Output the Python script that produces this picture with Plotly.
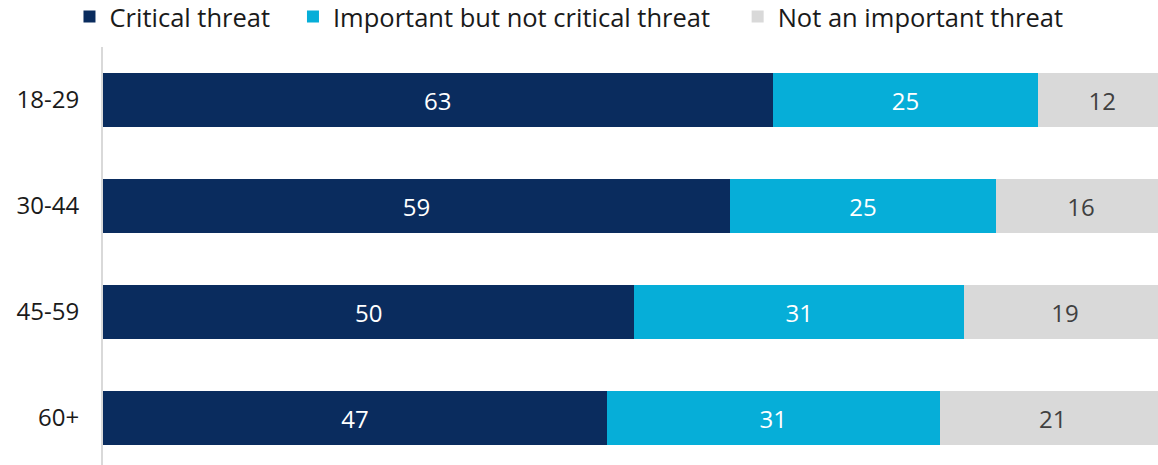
import plotly.graph_objects as go

categories = ["18-29", "30-44", "45-59", "60+"]
critical = [63, 59, 50, 47.4]
important = [25, 25, 31, 31.3]
not_important = [12, 16, 19, 21.3]

series_names = ["Critical threat", "Important but not critical threat", "Not an important threat"]
colors = ["#0a2c5e", "#06aed8", "#d9d9d9"]
text_colors = ["#ffffff", "#ffffff", "#404040"]
legend_ids = ["legend", "legend2", "legend3"]
legend_x = [0.060, 0.253, 0.637]

FONT = "Open Sans"

fig = go.Figure()
for name, vals, col, tcol, lid in zip(series_names, [critical, important, not_important], colors, text_colors, legend_ids):
    fig.add_trace(go.Bar(
        y=categories, x=vals, orientation="h", name=name,
        marker=dict(color=col, line=dict(width=0)),
        width=0.51, legend=lid,
        texttemplate="%{x:.0f}", textposition="inside", insidetextanchor="middle",
        textfont=dict(family=FONT, size=24, color=tcol),
        cliponaxis=True, hoverinfo="skip",
    ))

legend_common = dict(orientation="h", xanchor="left", yref="container", xref="container",
                     y=0.9634, yanchor="middle",
                     font=dict(family=FONT, size=25.5, color="#1a1a1a"),
                     itemwidth=30, bgcolor="rgba(0,0,0,0)")

layout_legends = {}
for lid, lx in zip(legend_ids, legend_x):
    layout_legends[lid] = dict(legend_common, x=lx)

fig.update_layout(
    barmode="stack",
    width=1158, height=465,
    margin=dict(l=103, r=0, t=47, b=0, autoexpand=False),
    paper_bgcolor="white", plot_bgcolor="white",
    font=dict(family=FONT, size=24, color="#1a1a1a"),
    uniformtext=dict(minsize=24, mode="show"),
    xaxis=dict(range=[0, 99.25], showgrid=False, zeroline=False, showticklabels=False,
               showline=False, fixedrange=True, automargin=False),
    yaxis=dict(type="category", range=[3.443, -0.5], showgrid=False, zeroline=False,
               showline=True, linecolor="#d9d9d9", linewidth=2, ticks="", automargin=False,
               ticklabelstandoff=17, tickfont=dict(family=FONT, size=24, color="#1a1a1a")),
    showlegend=True,
    **layout_legends,
)

fig.write_html("out.html", config={"displayModeBar": False},
               post_script="document.body.style.margin='0';")
